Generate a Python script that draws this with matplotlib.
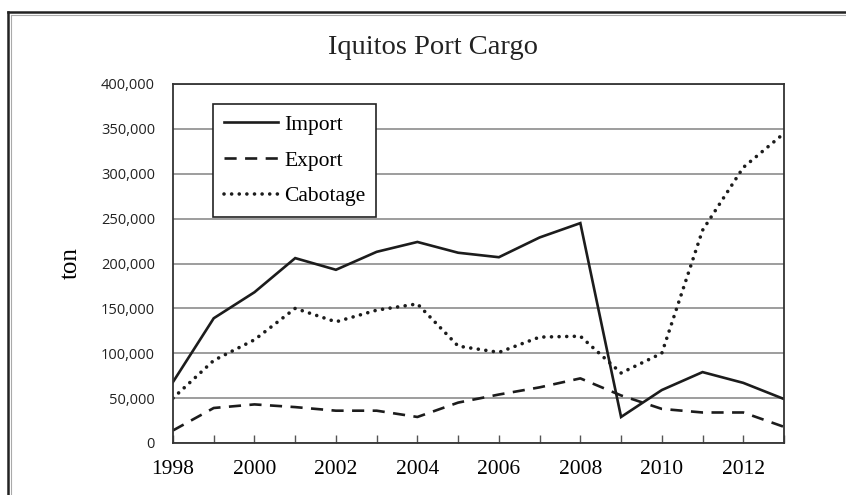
import matplotlib
matplotlib.use("Agg")
import matplotlib.pyplot as plt
from matplotlib.lines import Line2D
from matplotlib.ticker import FuncFormatter, MultipleLocator

# --- données (tonnes) ---
years = list(range(1998, 2014))
imports = [68000, 139000, 168000, 206000, 193000, 213000, 224000, 212000,
           207000, 229000, 245000, 29000, 59000, 79000, 67000, 49000]
exports = [14000, 39000, 43000, 40000, 36000, 36000, 29000, 45000,
           54000, 62000, 72000, 53000, 38000, 34000, 34000, 18000]
cabotage = [50000, 92000, 115000, 150000, 135000, 148000, 155000, 108000,
            101000, 118000, 119000, 78000, 100000, 237000, 307000, 345000]
xticks = list(range(1998, 2013, 2))
yticks = list(range(0, 400001, 50000))

serif = ["Liberation Serif", "DejaVu Serif"]
sans = ["Open Sans", "DejaVu Sans"]
ink = "#1c1c1c"

fig = plt.figure(figsize=(8.46, 4.95), dpi=100)
ax = fig.add_axes([173 / 846, 52 / 495, 611 / 846, 359 / 495])

ax.plot(years, imports, color=ink, lw=1.9, label="Import", solid_joinstyle="miter")
ax.plot(years, exports, color=ink, lw=1.9, dashes=(4.6, 3.2), label="Export")
ax.plot(years, cabotage, color=ink, lw=2.6, dashes=(0.01, 2.1),
        dash_capstyle="round", label="Cabotage")

ax.set_xlim(1998, 2013)
ax.set_ylim(0, 400000)
ax.set_yticks(yticks)
ax.set_xticks(xticks)
ax.xaxis.set_minor_locator(MultipleLocator(1))
ax.yaxis.set_major_formatter(FuncFormatter(lambda v, p: f"{int(v):,}"))
ax.grid(axis="y", color="#8c8c8c", lw=1.2)
ax.set_axisbelow(True)

ax.tick_params(axis="y", length=0, pad=13, labelsize=10.5, labelcolor="#222")
ax.tick_params(axis="x", which="both", direction="in", length=6, width=1,
               color="#555", pad=12, labelsize=15.5)
for lab in ax.get_yticklabels():
    lab.set_family(sans)
for lab in ax.get_xticklabels():
    lab.set_family(serif)
for s in ax.spines.values():
    s.set_color("#333")
    s.set_linewidth(1.3)

ax.set_ylabel("ton", family=serif, fontsize=18, labelpad=14)
fig.text(433 / 846, 1 - 47 / 495, "Iquitos Port Cargo", family=serif,
         fontsize=20.5, ha="center", va="center", color="#222")

leg = ax.legend(loc="upper left", bbox_to_anchor=(0.0655, 0.944),
                prop={"family": serif, "size": 15.5}, frameon=True,
                fancybox=False, framealpha=1, edgecolor="#222",
                handlelength=2.5, handletextpad=0.3, labelspacing=0.72,
                borderpad=0.5, borderaxespad=0)
leg.get_frame().set_linewidth(1.2)

# cadre extérieur (gauche et haut)
fig.add_artist(Line2D([8 / 846, 8 / 846], [0, 1 - 12 / 495], color="#222", lw=1.8))
fig.add_artist(Line2D([8 / 846, 1], [1 - 12 / 495, 1 - 12 / 495], color="#222", lw=1.8))
fig.add_artist(Line2D([11 / 846, 11 / 846], [0, 1 - 15 / 495], color="#aaa", lw=0.8))
fig.add_artist(Line2D([11 / 846, 1], [1 - 15 / 495, 1 - 15 / 495], color="#aaa", lw=0.8))

fig.savefig("out.png", dpi=100)
